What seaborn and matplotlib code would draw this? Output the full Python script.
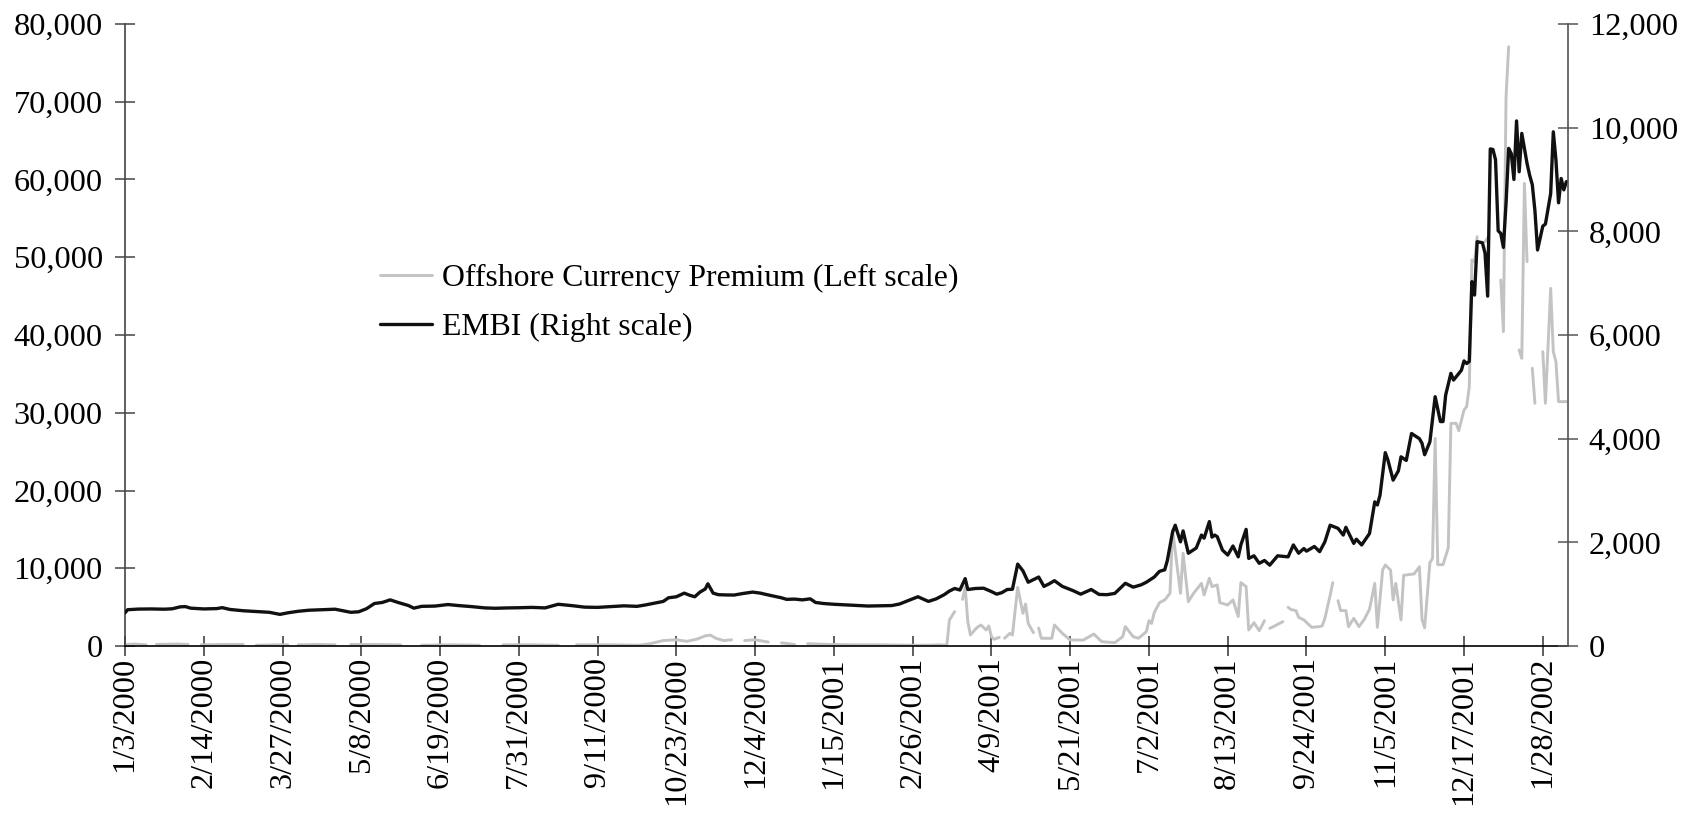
import numpy as np
import pandas as pd
import matplotlib
matplotlib.use("Agg")
import matplotlib.pyplot as plt
from matplotlib.lines import Line2D
from matplotlib.ticker import FuncFormatter
import seaborn as sns

# ---------------- data (x = business-day index from 1/3/2000) ----------------
tick_labels = ['1/3/2000', '2/14/2000', '3/27/2000', '5/8/2000', '6/19/2000', '7/31/2000',
               '9/11/2000', '10/23/2000', '12/4/2000', '1/15/2001', '2/26/2001', '4/9/2001',
               '5/21/2001', '7/2/2001', '8/13/2001', '9/24/2001', '11/5/2001', '12/17/2001',
               '1/28/2002']
tick_step_days = 30

embi_days = [0, 1, 5, 10, 15, 18, 21, 23, 25, 30,
             35, 37, 40, 45, 50, 55, 59, 62, 66, 70,
             75, 80, 83, 86, 89, 92, 95, 98, 101, 104,
             108, 110, 113, 118, 123, 127, 132, 137, 141, 146,
             150, 155, 160, 165, 170, 175, 180, 185, 190, 195,
             198, 202, 205, 207, 210, 213, 215, 217, 219, 221,
             222, 224, 226, 229, 232, 235, 239, 242, 244, 247,
             250, 252, 255, 258, 261, 263, 266, 270, 276, 280,
             283, 287, 292, 295, 298, 302, 306, 309, 312, 314,
             316, 318, 320, 321, 324, 327, 330, 332, 334, 336,
             338, 340, 342, 344, 346, 348, 350, 352, 354, 357,
             361, 364, 368, 371, 374, 377, 381, 384, 387, 389,
             392, 394, 396, 397, 399, 400, 402, 403, 405, 408,
             410, 411, 413, 414, 415, 416, 418, 420, 422, 424,
             425, 427, 428, 430, 432, 434, 436, 439, 443, 445,
             447, 449, 450, 453, 455, 457, 459, 462, 464, 465,
             468, 469, 471, 474, 476, 477, 478, 480, 481, 483,
             485, 486, 488, 490, 493, 494, 495, 497, 499, 501,
             502, 503, 505, 506, 509, 510, 511, 512, 513, 514,
             515, 517, 518, 519, 520, 521, 522, 523, 524, 525,
             526, 527, 528, 529, 530, 531, 532, 534, 535, 536,
             537, 538, 540, 541, 542, 543, 544, 545, 546, 547,
             548, 549]
embi_values = [640, 700, 712, 715, 710, 718, 755, 760, 730, 715,
               722, 740, 705, 680, 665, 650, 610, 640, 670, 690,
               700, 710, 680, 650, 660, 720, 820, 840, 890, 840,
               780, 730, 765, 770, 800, 780, 760, 735, 728, 735,
               738, 745, 735, 805, 780, 750, 745, 760, 775, 765,
               790, 830, 860, 930, 950, 1020, 980, 950, 1040, 1100,
               1200, 1020, 990, 985, 983, 1010, 1040, 1020, 996, 964,
               930, 900, 905, 890, 910, 840, 820, 805, 790, 780,
               771, 775, 780, 810, 870, 950, 860, 910, 990, 1060,
               1110, 1080, 1300, 1090, 1110, 1115, 1050, 1000, 1030, 1090,
               1095, 1580, 1450, 1230, 1280, 1330, 1150, 1200, 1260, 1150,
               1070, 1000, 1090, 995, 990, 1015, 1210, 1135, 1180, 1230,
               1330, 1440, 1470, 1650, 2200, 2330, 2010, 2220, 1790, 1890,
               2140, 2080, 2400, 2100, 2140, 2110, 1850, 1755, 1930, 1720,
               1950, 2250, 1690, 1740, 1595, 1650, 1560, 1740, 1720, 1950,
               1790, 1880, 1830, 1920, 1820, 2010, 2330, 2270, 2140, 2290,
               1980, 2060, 1950, 2170, 2780, 2720, 2910, 3730, 3590, 3200,
               3380, 3650, 3580, 4100, 4000, 3910, 3690, 3940, 4810, 4330,
               4330, 4840, 5260, 5130, 5320, 5500, 5450, 5490, 7030, 6770,
               7800, 7780, 7580, 6750, 9590, 9580, 9380, 8010, 7960, 7690,
               8540, 9600, 9500, 9000, 10130, 9150, 9890, 9310, 9080, 8900,
               8400, 7640, 8100, 8140, 8440, 8730, 9920, 9380, 8550, 9020,
               8800, 8960]

nan = float('nan')
premium_days = [0, 4, 8, 10, 12, 20, 24, 27, 29, 38,
                45, 48, 50, 58, 62, 64, 66, 74, 80, 84,
                86, 95, 105, 110, 113, 125, 135, 142, 144, 155,
                165, 170, 172, 185, 196, 200, 205, 210, 214, 218,
                221, 223, 225, 228, 231, 234, 236, 240, 245, 248,
                250, 255, 258, 260, 268, 278, 288, 298, 306, 310,
                313, 314, 316, 317, 319, 320, 321, 322, 324, 325,
                326, 328, 329, 330, 331, 333, 334, 335, 337, 338,
                340, 342, 343, 344, 346, 347, 348, 349, 353, 354,
                357, 360, 365, 369, 372, 377, 380, 381, 384, 386,
                389, 390, 391, 392, 394, 396, 398, 399, 402, 403,
                405, 407, 410, 411, 413, 414, 416, 417, 420, 422,
                424, 425, 427, 428, 430, 432, 434, 435, 436, 438,
                441, 442, 443, 444, 446, 447, 449, 452, 455, 456,
                457, 459, 460, 461, 462, 463, 465, 466, 468, 470,
                472, 474, 476, 477, 479, 480, 482, 483, 484, 486,
                487, 491, 493, 494, 495, 497, 498, 499, 500, 502,
                504, 505, 507, 508, 510, 511, 512, 513, 514, 515,
                516, 518, 519, 520, 524, 525, 526, 527, 528, 531,
                532, 533, 534, 535, 536, 537, 538, 540, 541, 543,
                544, 545, 546, 549]
premium_values = [200, 250, 150, nan, 200, 250, 200, nan, 150, 200,
                  200, nan, 100, 150, 150, nan, 150, 200, 150, nan,
                  200, 200, 150, nan, 100, 150, 100, nan, 150, 150,
                  100, nan, 150, 150, 100, 300, 700, 800, 600, 900,
                  1300, 1400, 1000, 700, 800, nan, 700, 800, 500, nan,
                  400, 200, nan, 300, 200, 150, 150, 100, 100, 150,
                  100, 3350, 4420, nan, 6000, 7550, 3130, 1415, 2200, 2490,
                  2700, 2060, 2575, 1200, 860, 1115, nan, 990, 1630, 1415,
                  7550, 4200, 5400, 2900, 1715, nan, 2300, 990, 990, 2700,
                  1630, 770, 770, 1540, 560, 430, 1200, 2500, 1200, 990,
                  1840, 3260, 2900, 4290, 5580, 5920, 6780, 14930, 6780, 11930,
                  5700, 6780, 8060, 6560, 8710, 7640, 7850, 5580, 5280, 5920,
                  3780, 8150, 7640, 2060, 3000, 1970, 3260, nan, 2270, 2600,
                  3130, nan, 4980, 4700, 4550, 3690, 3350, 2400, 2490, 2600,
                  3560, 6500, 8150, nan, 5830, 4550, 4550, 2490, 3560, 2490,
                  3430, 4720, 8060, 2400, 9780, 10420, 9780, 5920, 8060, 3350,
                  9100, 9270, 10190, 3410, 2330, 10730, 11270, 26700, 10460, 10460,
                  12630, 28640, 28640, 27700, 30360, 30790, 33360, 49650, 49430, 52650,
                  nan, 52000, 52500, nan, 47080, 40430, 70650, 77080, nan, 38070,
                  37000, 59500, 49430, nan, 35720, 31220, nan, 37860, 31220, 46000,
                  37860, 36570, 31430, 31430]

premium_label = 'Offshore Currency Premium (Left scale)'
embi_label = 'EMBI (Right scale)'

# ---------------- styling ----------------
sns.set_theme(style='white')
plt.rcParams['font.family'] = ['Liberation Serif', 'DejaVu Serif']

grey = '#c3c3c3'
black = '#111111'
fs = 23.3
legend_fs = 22.9

fig = plt.figure(figsize=(16.95, 8.16), dpi=100)
W, H = 1695, 816
ax = fig.add_axes([125 / W, 1 - 646 / H, (1568 - 125) / W, (646 - 24) / H])
ax2 = ax.twinx()

prem = pd.DataFrame({'day': premium_days, 'value': premium_values})
prem['segment'] = prem['value'].isna().cumsum()
prem = prem.dropna()
sns.lineplot(data=prem, x='day', y='value', units='segment', estimator=None,
             color=grey, lw=2.1, ax=ax, legend=False)

embi = pd.DataFrame({'day': embi_days, 'value': embi_values})
sns.lineplot(data=embi, x='day', y='value', estimator=None,
             color=black, lw=2.4, ax=ax2, legend=False)

x_end = 549.6
ax.set_xlim(0, x_end)
ax.set_ylim(0, 80000)
ax2.set_ylim(0, 12000)
ax.set_yticks(np.arange(0, 80001, 10000))
ax2.set_yticks(np.arange(0, 12001, 2000))
fmt = FuncFormatter(lambda v, p: f'{int(v):,}')
ax.yaxis.set_major_formatter(fmt)
ax2.yaxis.set_major_formatter(fmt)

ax.set_xticks(np.arange(len(tick_labels)) * tick_step_days)
ax.set_xticklabels(tick_labels, rotation=90)

for a in (ax, ax2):
    a.set_xlabel('')
    a.set_ylabel('')
    a.spines['top'].set_visible(False)
    a.grid(False)
ax.spines['left'].set_color('#444444')
ax.spines['right'].set_visible(False)
ax2.spines['left'].set_visible(False)
ax2.spines['bottom'].set_visible(False)
ax2.spines['right'].set_color('#555555')
ax.spines['bottom'].set_color('black')
for s in ('left', 'bottom'):
    ax.spines[s].set_linewidth(1.2)
ax2.spines['right'].set_linewidth(1.2)

ax.tick_params(axis='x', bottom=True, direction='inout', length=14, width=1.1,
               color='#333333', labelsize=fs, pad=1, labelcolor='black')
ax.tick_params(axis='y', left=True, direction='inout', length=14, width=1.1,
               color='#444444', labelsize=fs, pad=9, labelcolor='black')
ax2.tick_params(axis='y', right=True, direction='inout', length=14, width=1.1,
                color='#555555', labelsize=fs, pad=8, labelcolor='black')

handles = [Line2D([], [], color=grey, lw=2.1), Line2D([], [], color=black, lw=2.4)]
ax2.legend(handles, [premium_label, embi_label], loc='upper left',
           bbox_to_anchor=(380 / W, 1 - 264 / H), bbox_transform=fig.transFigure,
           frameon=False, fontsize=legend_fs, handlelength=1.65, handletextpad=0.3,
           labelspacing=0.62, borderpad=0, borderaxespad=0,
           labelcolor='black')

fig.savefig('out.png', dpi=100)
